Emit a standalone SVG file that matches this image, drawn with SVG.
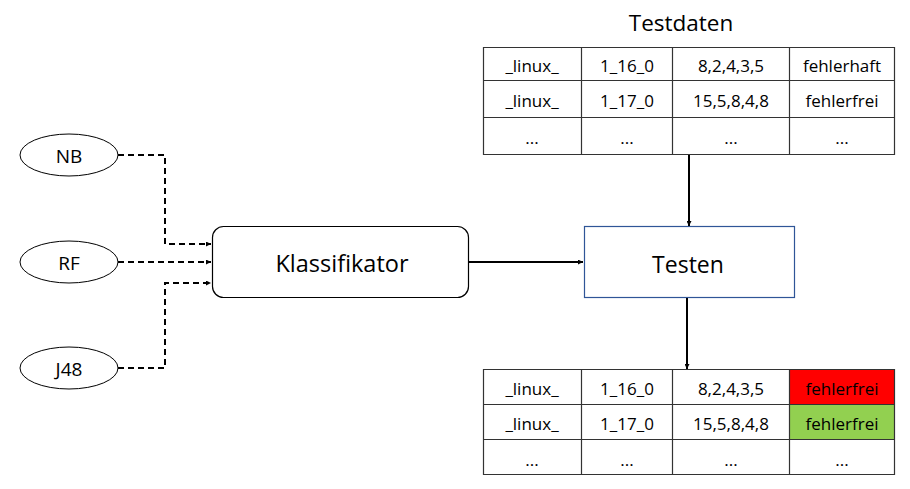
<svg xmlns="http://www.w3.org/2000/svg" width="910" height="489" viewBox="0 0 910 489">
<defs>
<marker id="ah" viewBox="0 0 10 10" refX="10" refY="5" markerWidth="5" markerHeight="5" orient="auto" markerUnits="userSpaceOnUse"><path d="M0,0 L10,5 L0,10 z" fill="#000"/></marker>
<style>
text{font-family:"Open Sans","Liberation Sans",sans-serif;fill:#000;text-anchor:middle;dominant-baseline:central}
.cell{font-size:17px}
.grid{stroke:#333;stroke-width:1.2;fill:none}
.dash{stroke:#000;stroke-width:2;fill:none;stroke-dasharray:6 4}
.solid{stroke:#000;stroke-width:2;fill:none}
</style>
</defs>
<rect width="910" height="489" fill="#fff"/>
<text x="681" y="22" font-size="22.5">Testdaten</text>
<g id="table-top">
<path class="grid" d="M483,47.5H895M483,80.5H895M483,117.5H895M483,154.5H895M483.5,47V155M581.5,47V155M672.5,47V155M789.5,47V155M894.5,47V155"/>
<text class="cell" x="532" y="65">_linux_</text><text class="cell" x="627" y="65">1_16_0</text><text class="cell" x="731" y="65">8,2,4,3,5</text><text class="cell" x="842" y="65">fehlerhaft</text>
<text class="cell" x="532" y="100">_linux_</text><text class="cell" x="627" y="100">1_17_0</text><text class="cell" x="731" y="100">15,5,8,4,8</text><text class="cell" x="842" y="100">fehlerfrei</text>
<text class="cell" x="532" y="137">...</text><text class="cell" x="627" y="137">...</text><text class="cell" x="731" y="137">...</text><text class="cell" x="842" y="137">...</text>
</g>
<g id="table-bottom">
<rect x="789.5" y="369.5" width="105" height="35" fill="#ff0000"/>
<rect x="789.5" y="404.5" width="105" height="35" fill="#92d050"/>
<path class="grid" d="M483,369.5H895M483,404.5H895M483,439.5H895M483,474.5H895M483.5,369V475M581.5,369V475M672.5,369V475M789.5,369V475M894.5,369V475"/>
<text class="cell" x="532" y="388">_linux_</text><text class="cell" x="627" y="388">1_16_0</text><text class="cell" x="731" y="388">8,2,4,3,5</text><text class="cell" x="842" y="388">fehlerfrei</text>
<text class="cell" x="532" y="423">_linux_</text><text class="cell" x="627" y="423">1_17_0</text><text class="cell" x="731" y="423">15,5,8,4,8</text><text class="cell" x="842" y="423">fehlerfrei</text>
<text class="cell" x="532" y="459">...</text><text class="cell" x="627" y="459">...</text><text class="cell" x="731" y="459">...</text><text class="cell" x="842" y="459">...</text>
</g>
<g id="nb"><ellipse cx="69" cy="155" rx="49" ry="21" fill="#fff" stroke="#000" stroke-width="1"/><text x="69" y="156" font-size="19">NB</text></g>
<g id="rf"><ellipse cx="69" cy="262" rx="49" ry="21" fill="#fff" stroke="#000" stroke-width="1"/><text x="69" y="263" font-size="19">RF</text></g>
<g id="j48"><ellipse cx="69" cy="368" rx="49" ry="21" fill="#fff" stroke="#000" stroke-width="1"/><text x="69" y="369" font-size="19">J48</text></g>
<g id="klassifikator"><rect x="212.5" y="226.5" width="256" height="71" rx="11" fill="#fff" stroke="#000" stroke-width="1.2"/><text x="342" y="263" font-size="23.5">Klassifikator</text></g>
<g id="testen"><rect x="584.5" y="226.5" width="210" height="71" fill="#fff" stroke="#2f5597" stroke-width="1.2"/><text x="688" y="264" font-size="23">Testen</text></g>
<g id="connectors">
<path class="dash" d="M118,155H165V244H211" marker-end="url(#ah)"/>
<path class="dash" d="M118,262H211" marker-end="url(#ah)"/>
<path class="dash" d="M118,368H165V283H211" marker-end="url(#ah)"/>
<path class="solid" d="M469,262H583" marker-end="url(#ah)"/>
<path class="solid" d="M689,155V226" marker-end="url(#ah)"/>
<path class="solid" d="M687,298V369" marker-end="url(#ah)"/>
</g>
</svg>
